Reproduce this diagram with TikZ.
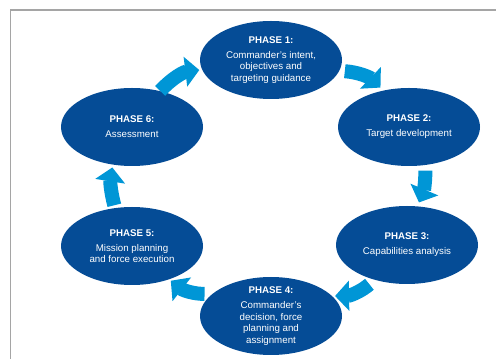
\documentclass[tikz,border=0pt]{standalone}
\usepackage{fontspec}
\setmainfont{Liberation Sans}
\usetikzlibrary{shapes.geometric,arrows.meta}

\definecolor{phaseblue}{RGB}{5,76,150}
\definecolor{arrowblue}{RGB}{0,150,214}
\definecolor{framegray}{RGB}{165,165,165}

\tikzset{
	phase/.style={ellipse, fill=phaseblue, minimum width=106.5pt, minimum height=58.5pt, inner sep=0pt},
	phasetext/.style={text=white, align=center, inner sep=0.75pt, font=\fontsize{7.3}{8.6}\selectfont},
	cyclearrow/.style={draw=arrowblue, line width=10.5pt, -{Triangle[width=22pt,length=10.5pt]}},
}

\begin{document}
\begin{tikzpicture}[x=0.75pt,y=0.75pt,yscale=-1,xscale=1]
	\useasboundingbox (0,0) rectangle (496,359);
	
	%Frame [top and left edge]
	\draw [framegray, line width=1pt]  (10.5,359) -- (10.5,10) -- (496,10) ;
	
	%Shape: Ellipse [phase 1]
	\node [phase] (p1) at (271,60) {};
	%Shape: Ellipse [phase 2]
	\node [phase] (p2) at (409,127) {};
	%Shape: Ellipse [phase 3]
	\node [phase] (p3) at (407,245) {};
	%Shape: Ellipse [phase 4]
	\node [phase] (p4) at (271,316) {};
	%Shape: Ellipse [phase 5]
	\node [phase] (p5) at (132,246) {};
	%Shape: Ellipse [phase 6]
	\node [phase] (p6) at (132,127) {};
	
	% Text Node
	\node [phasetext] (t1) at (p1) {\textbf{PHASE 1:}\\[2.6pt]Commander's intent,\\objectives and\\targeting guidance};
	% Text Node
	\node [phasetext] (t2) at (p2) {\textbf{PHASE 2:}\\[2.6pt]Target development};
	% Text Node
	\node [phasetext] (t3) at (p3) {\textbf{PHASE 3:}\\[2.6pt]Capabilities analysis};
	% Text Node
	\node [phasetext] (t4) at (p4) {\textbf{PHASE 4:}\\[2.6pt]Commander's\\decision, force\\planning and\\assignment};
	% Text Node
	\node [phasetext] (t5) at (p5) {\textbf{PHASE 5:}\\[2.6pt]Mission planning\\and force execution};
	% Text Node
	\node [phasetext] (t6) at (p6) {\textbf{PHASE 6:}\\[2.6pt]Assessment};
	
	%Block Arrows
	\draw [cyclearrow, shorten >=2pt]  (p6.52) to [bend right=20] (p1.188) ;
	\draw [cyclearrow, shorten <=4pt, shorten >=3pt]  (p1.-9) to [bend right=20] (p2.125) ;
	\draw [cyclearrow, shorten <=4pt, shorten >=3pt]  (p2.-67) to [bend right=12] (p3.75) ;
	\draw [cyclearrow, shorten <=5pt, shorten >=2pt]  (p3.227) to [bend right=20] (p4.18) ;
	\draw [cyclearrow, shorten <=6pt, shorten >=1.5pt]  (p4.159) to [bend right=20] (p5.-42) ;
	\draw [cyclearrow, shorten <=2pt, shorten >=2pt]  (p5.114) to [bend right=12] (p6.243) ;
	
\end{tikzpicture}
\end{document}
